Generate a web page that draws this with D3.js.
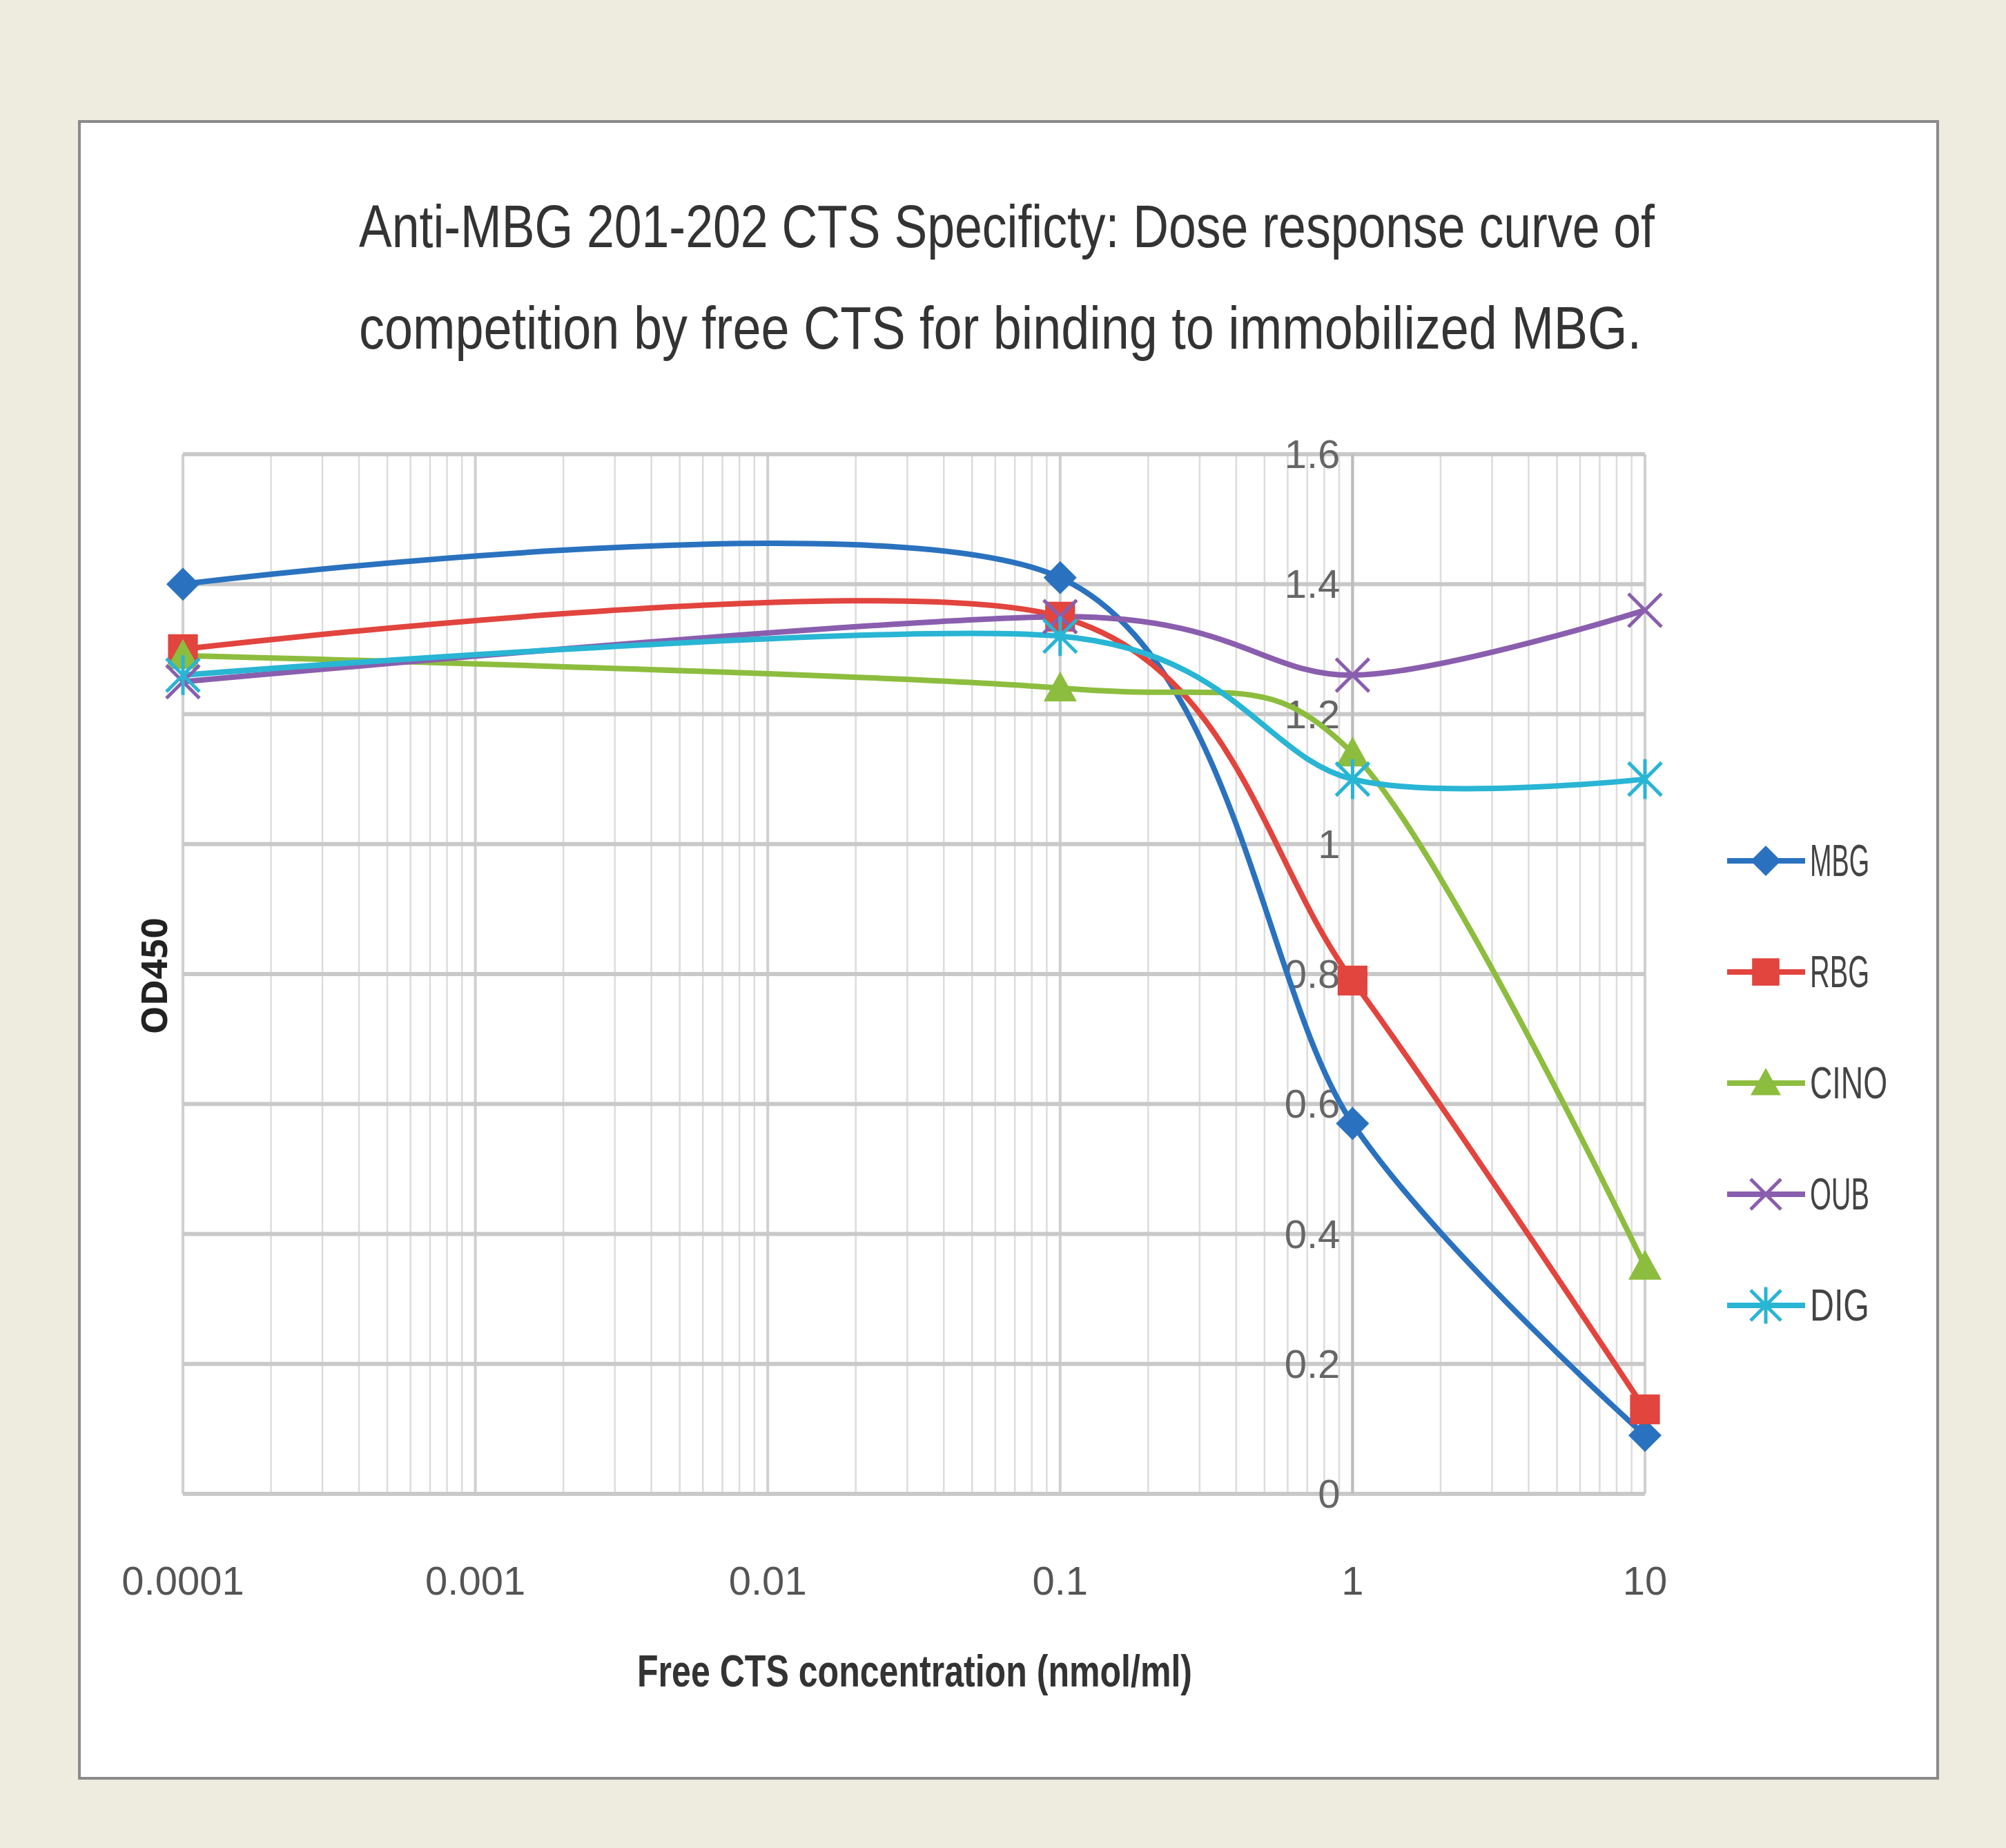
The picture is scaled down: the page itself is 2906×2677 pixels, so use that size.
<!DOCTYPE html>
<html><head><meta charset="utf-8">
<script src="https://cdn.jsdelivr.net/npm/d3@7"></script>
<style>body{margin:0;background:#eeebdf}</style></head>
<body><svg id="c" width="2906" height="2677"></svg>
<script>
const concentrations=[0.0001,0.1,1,10];
const seriesNames=["MBG","RBG","CINO","OUB","DIG"];
const MBG=[1.40,1.41,0.57,0.09];
const RBG=[1.30,1.35,0.79,0.13];
const CINO=[1.29,1.24,1.14,0.35];
const OUB=[1.25,1.35,1.26,1.36];
const DIG=[1.26,1.32,1.10,1.10];
const xTicks=[0.0001,0.001,0.01,0.1,1,10];
const xTickLabels=["0.0001","0.001","0.01","0.1","1","10"];
const yTicks=[0,0.2,0.4,0.6,0.8,1,1.2,1.4,1.6];
const yTickLabels=["0","0.2","0.4","0.6","0.8","1","1.2","1.4","1.6"];
const colors=["#2a72bf","#e2443e","#8dbd3e","#8a5eae","#29b5d4"];
const markers=["diamond","square","triangle","x","star"];
const allVals=[MBG,RBG,CINO,OUB,DIG];

const svg=d3.select("#c");
svg.append("rect").attr("x",0).attr("y",0).attr("width",2906).attr("height",2677).attr("fill","#eeebdf");
svg.append("rect").attr("x",115).attr("y",176).attr("width",2692).attr("height",2400).attr("fill","#fff").attr("stroke","#8a8a8a").attr("stroke-width",4);

const x=d3.scaleLog().domain([0.0001,10]).range([265,2383]);
const y=d3.scaleLinear().domain([0,1.6]).range([2164,658]);

const minor=[];
for(let e=-4;e<1;e++)for(let m=2;m<=9;m++)minor.push(m*Math.pow(10,e));
svg.append("g").selectAll("line").data(minor).join("line")
 .attr("x1",d=>x(d)).attr("x2",d=>x(d)).attr("y1",y(1.6)).attr("y2",y(0))
 .attr("stroke","#dcdcdc").attr("stroke-width",2.5);
svg.append("g").selectAll("line").data(xTicks).join("line")
 .attr("x1",d=>x(d)).attr("x2",d=>x(d)).attr("y1",y(1.6)).attr("y2",y(0))
 .attr("stroke","#cfcfcf").attr("stroke-width",4);
svg.append("g").selectAll("line").data(yTicks).join("line")
 .attr("x1",x(0.0001)).attr("x2",x(10)).attr("y1",d=>y(d)).attr("y2",d=>y(d))
 .attr("stroke","#c9c9c9").attr("stroke-width",6);
svg.append("line").attr("x1",x(1)).attr("x2",x(1)).attr("y1",y(1.6)).attr("y2",y(0)).attr("stroke","#bdbdbd").attr("stroke-width",4);

const font="'Liberation Sans Narrow','Liberation Sans',sans-serif";
svg.append("g").selectAll("text").data(yTicks).join("text")
 .attr("x",x(1)-18).attr("y",d=>y(d)+20).attr("text-anchor","end")
 .attr("font-family",font).attr("font-size",58).attr("fill","#666")
 .text((d,i)=>yTickLabels[i]);
svg.append("g").selectAll("text").data(xTicks).join("text")
 .attr("x",d=>x(d)).attr("y",2310).attr("text-anchor","middle")
 .attr("font-family",font).attr("font-size",58).attr("fill","#555")
 .text((d,i)=>xTickLabels[i]);

svg.append("text").attr("x",923).attr("y",2443)
 .attr("font-family",font).attr("font-size",64).attr("font-weight","bold").attr("fill","#333")
 .attr("textLength",804).attr("lengthAdjust","spacingAndGlyphs")
 .text("Free CTS concentration (nmol/ml)");
svg.append("text").attr("transform","translate(242,1414) rotate(-90)").attr("text-anchor","middle")
 .attr("font-family","'Open Sans',sans-serif").attr("font-size",52).attr("font-weight","bold").attr("fill","#222")
 .text("OD450");
svg.append("text").attr("x",520).attr("y",358).attr("font-family",font).attr("font-size",88).attr("fill","#333")
 .attr("textLength",1877).attr("lengthAdjust","spacingAndGlyphs")
 .text("Anti-MBG 201-202 CTS Specificty: Dose response curve of");
svg.append("text").attr("x",520).attr("y",505).attr("font-family",font).attr("font-size",88).attr("fill","#333")
 .attr("textLength",1858).attr("lengthAdjust","spacingAndGlyphs")
 .text("competition by free CTS for binding to immobilized MBG.");

function marker(g,type,cx,cy,col,s){
 if(type==="diamond")g.append("path").attr("d",`M${cx},${cy-s}L${cx+s},${cy}L${cx},${cy+s}L${cx-s},${cy}Z`).attr("fill",col);
 else if(type==="square")g.append("rect").attr("x",cx-s*0.9).attr("y",cy-s*0.9).attr("width",s*1.8).attr("height",s*1.8).attr("fill",col);
 else if(type==="triangle")g.append("path").attr("d",`M${cx},${cy-s}L${cx+s},${cy+s*0.8}L${cx-s},${cy+s*0.8}Z`).attr("fill",col);
 else if(type==="x")g.append("path").attr("d",`M${cx-s},${cy-s}L${cx+s},${cy+s}M${cx-s},${cy+s}L${cx+s},${cy-s}`).attr("stroke",col).attr("stroke-width",5);
 else g.append("path").attr("d",`M${cx-s},${cy-s}L${cx+s},${cy+s}M${cx-s},${cy+s}L${cx+s},${cy-s}M${cx},${cy-s*1.2}L${cx},${cy+s*1.2}`).attr("stroke",col).attr("stroke-width",5);
}
const line=d3.line().x(d=>x(d[0])).y(d=>y(d[1])).curve(d3.curveCardinal.tension(0.1));
allVals.forEach((vals,i)=>{
 const pts=concentrations.map((c,j)=>[c,vals[j]]);
 svg.append("path").attr("d",line(pts)).attr("fill","none").attr("stroke",colors[i]).attr("stroke-width",8);
});
allVals.forEach((vals,i)=>{
 const g=svg.append("g");
 concentrations.forEach((c,j)=>marker(g,markers[i],x(c),y(vals[j]),colors[i],24));
});
seriesNames.forEach((n,i)=>{
 const ly=1247+i*161;
 svg.append("line").attr("x1",2502).attr("x2",2615).attr("y1",ly).attr("y2",ly).attr("stroke",colors[i]).attr("stroke-width",8);
 marker(svg,markers[i],2558,ly,colors[i],22);
 svg.append("text").attr("x",2622).attr("y",ly+22).attr("font-family",font).attr("font-size",64).attr("fill","#444")
  .attr("textLength",n.length*26+8).attr("lengthAdjust","spacingAndGlyphs").text(n);
});
</script></body></html>
